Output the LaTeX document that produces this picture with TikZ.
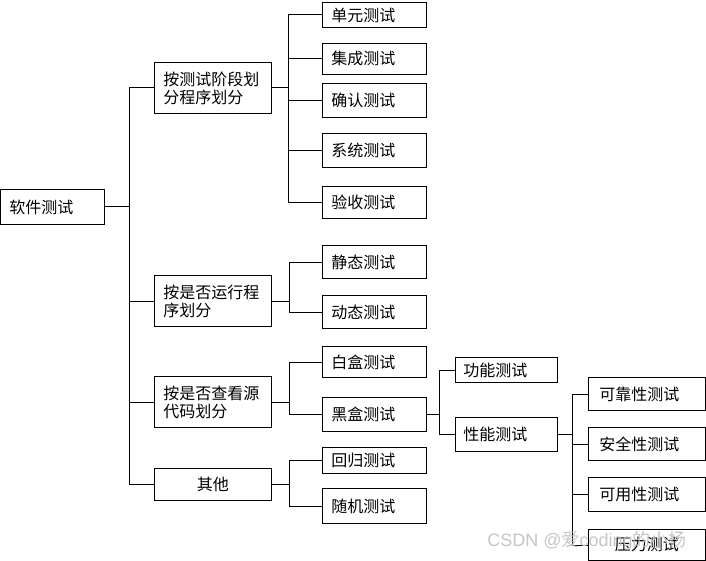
\documentclass[tikz,border=0pt]{standalone}
\usepackage{fontspec}
\newfontfamily\cjk{Noto Sans CJK SC}
\newfontfamily\lat{Liberation Sans}
\begin{document}
\begin{tikzpicture}[x=1pt,y=-1pt,
  font=\cjk\fontsize{16}{18}\selectfont,
  box/.style={draw,line width=0.9pt,anchor=north west,inner ysep=0pt,
    inner xsep=9pt,align=left,text width=86pt},
  cat/.style={box,text width=99pt},
  leaf/.style={box},
  sub/.style={box,inner xsep=11pt,text width=95pt},
  link/.style={draw,line width=0.9pt},
  wm/.style={text=gray!50,opacity=0.9,font=\fontsize{18}{20}\selectfont}]
\useasboundingbox (0,0) rectangle (706,561);
% root and categories
\node[box,minimum height=35pt] (root) at (0,189) {软件测试};
\node[cat,minimum height=51pt] (a1) at (154,62) {按测试阶段划\\分程序划分};
\node[cat,minimum height=51pt] (a2) at (154,275) {按是否运行程\\序划分};
\node[cat,minimum height=51pt] (a3) at (154,376) {按是否查看源\\代码划分};
\node[cat,minimum height=32pt,align=center] (a4) at (154,468) {其他};
% leaves
\node[leaf,minimum height=25pt] (b1) at (322,2) {单元测试};
\node[leaf,minimum height=31pt] (b2) at (322,43) {集成测试};
\node[leaf,minimum height=34pt] (b3) at (322,83) {确认测试};
\node[leaf,minimum height=34pt] (b4) at (322,133) {系统测试};
\node[leaf,minimum height=32pt] (b5) at (322,186) {验收测试};
\node[leaf,minimum height=33pt] (b6) at (322,245) {静态测试};
\node[leaf,minimum height=33pt] (b7) at (322,295) {动态测试};
\node[leaf,minimum height=31pt] (b8) at (322,346) {白盒测试};
\node[leaf,minimum height=34pt] (b9) at (322,397) {黑盒测试};
\node[leaf,minimum height=26pt] (b10) at (322,447) {回归测试};
\node[leaf,minimum height=35pt] (b11) at (322,488) {随机测试};
\node[leaf,minimum height=25pt,inner xsep=8pt] (c1) at (455,357) {功能测试};
\node[leaf,minimum height=34pt,inner xsep=8pt] (c2) at (455,417) {性能测试};
\node[sub,minimum height=33pt] (d1) at (588,377) {可靠性测试};
\node[sub,minimum height=33pt] (d2) at (588,427) {安全性测试};
\node[sub,minimum height=34pt] (d3) at (588,477) {可用性测试};
\node[sub,minimum height=31pt,align=center] (d4) at (588,529) {压力测试};
% connectors
\foreach \n in {a1,a2,a3,a4}
  \draw[link] (\n.west) -- ++(-25,0) |- (root.east);
\foreach \n in {b1,b2,b3,b4,b5}
  \draw[link] (\n.west) -- ++(-34,0) |- (a1.east);
\foreach \n in {b6,b7}
  \draw[link] (\n.west) -- ++(-33,0) |- (a2.east);
\foreach \n in {b8,b9}
  \draw[link] (\n.west) -- ++(-33,0) |- (a3.east);
\foreach \n in {b10,b11}
  \draw[link] (\n.west) -- ++(-33,0) |- (a4.east);
\foreach \n in {c1,c2}
  \draw[link] (\n.west) -- ++(-16,0) |- (b9.east);
\foreach \n in {d1,d2,d3,d4}
  \draw[link] (\n.west) -- ++(-16,0) |- (c2.east);
\node[wm] (mark) at (587,541) {\lat CSDN @\cjk 爱\lat coding\cjk 的小杨};
\end{tikzpicture}
\end{document}
